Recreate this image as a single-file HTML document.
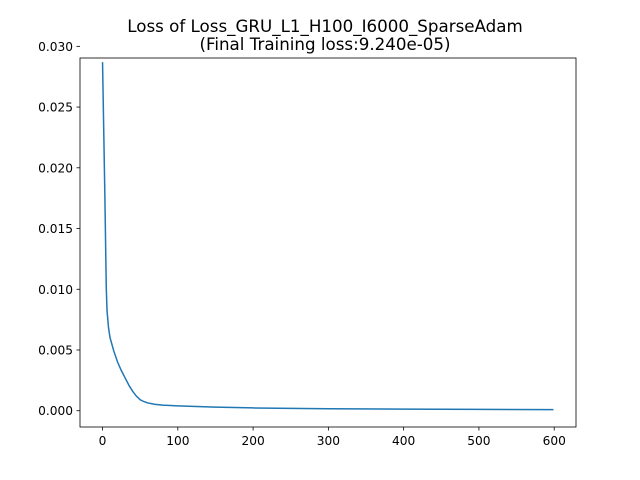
<!DOCTYPE html>
<html><head><meta charset="utf-8"><style>
body{margin:0;background:#fff}
svg{display:block;font-family:"DejaVu Sans","Liberation Sans",sans-serif}
</style></head><body>
<svg id="chart" width="640" height="480">
<rect width="640" height="480" fill="#fff"/>
<text x="325" y="32" text-anchor="middle" font-size="16.7">Loss of Loss_GRU_L1_H100_I6000_SparseAdam</text>
<text x="325" y="50" text-anchor="middle" font-size="16.7">(Final Training loss:9.240e-05)</text>
<g id="axes"></g>
</svg>
<script>
const epochs=[0,3,5,6,8,10,15,20,25,30,35,40,45,50,55,60,70,80,100,150,200,250,300,400,500,599];
const losses=[0.0287,0.0180,0.0100,0.0082,0.0068,0.0060,0.0049,0.0040,0.0033,0.0027,0.0021,0.0016,0.0012,0.0009,0.00075,0.00064,0.00052,0.00046,0.0004,0.0003,0.00023,0.00019,0.00016,0.00013,0.00011,0.0000924];
const xTicks=[0,100,200,300,400,500,600];
const yTicks=[0,0.005,0.01,0.015,0.02,0.025,0.03];
const L=80,R=576,T=58,B=427;
const xmin=-29.95,xmax=628.95,ymin=-0.00134,ymax=0.02904;
const sx=v=>L+(v-xmin)/(xmax-xmin)*(R-L);
const sy=v=>B-(v-ymin)/(ymax-ymin)*(B-T);
const NS="http://www.w3.org/2000/svg";
const g=document.getElementById('axes');
function mk(t,a){const e=document.createElementNS(NS,t);for(const k in a)e.setAttribute(k,a[k]);g.appendChild(e);return e;}
const line=mk('polyline',{points:epochs.map((x,i)=>sx(x)+','+sy(losses[i])).join(' '),fill:'none',stroke:'#1f77b4','stroke-width':1.5});


const frame=mk('rect',{x:L,y:T,width:R-L,height:B-T,fill:'none',stroke:'#000','stroke-width':0.8});


xTicks.forEach(v=>{const x=sx(v);
 mk('line',{x1:x,x2:x,y1:B,y2:B+3.5,stroke:'#000','stroke-width':0.8});
 const t=mk('text',{x:x,y:B+18,'text-anchor':'middle','font-size':12.2});t.textContent=v;
 
 
});
yTicks.forEach(v=>{const y=sy(v);
 mk('line',{x1:L-3.5,x2:L,y1:y,y2:y,stroke:'#000','stroke-width':0.8});
 const t=mk('text',{x:L-7,y:y+4.5,'text-anchor':'end','font-size':12.2});t.textContent=v.toFixed(3);
 
 
});
</script>
</body></html>
